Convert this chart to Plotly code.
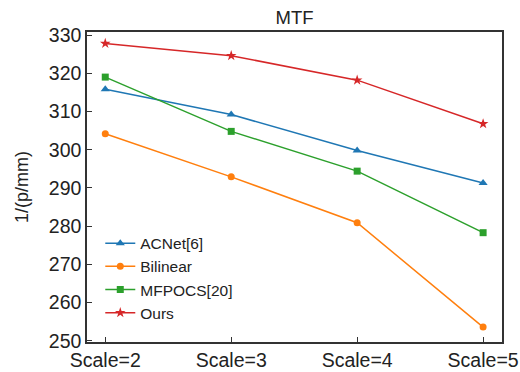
import plotly.graph_objects as go

categories = ["Scale=2", "Scale=3", "Scale=4", "Scale=5"]
acnet = [315.8, 309.2, 299.8, 291.3]
bilinear = [304.2, 292.9, 280.9, 253.6]
mfpocs = [319.0, 304.8, 294.4, 278.3]
ours = [327.8, 324.6, 318.2, 306.8]

series = [
    ("ACNet[6]", acnet, "#1f77b4", "triangle-up", 8),
    ("Bilinear", bilinear, "#ff7f0e", "circle", 7),
    ("MFPOCS[20]", mfpocs, "#2ca02c", "square", 7),
    ("Ours", ours, "#d62728", "star", 8),
]

fig = go.Figure()
for name, vals, col, sym, sz in series:
    fig.add_trace(go.Scatter(
        x=list(range(len(categories))), y=vals, name=name, mode="lines+markers",
        line=dict(color=col, width=1.5),
        marker=dict(symbol=sym, size=sz, color=col),
    ))

fig.update_layout(
    width=520, height=372,
    margin=dict(l=87, r=18, t=32, b=30),
    paper_bgcolor="white", plot_bgcolor="white",
    font=dict(family="Liberation Sans, Arial, sans-serif", color="#222", size=18),
    title=dict(text="MTF", x=0.5 * (87 + 502) / 520, xanchor="center", y=0.952, yanchor="middle",
               font=dict(size=18.5)),
    showlegend=True,
    legend=dict(x=0.032, y=0.04, xanchor="left", yanchor="bottom", bgcolor="rgba(0,0,0,0)",
                font=dict(size=15.5), tracegroupgap=0, itemwidth=30),
)
fig.update_xaxes(
    range=[-0.145, 3.15], tickmode="array", tickvals=list(range(len(categories))),
    ticktext=categories, showgrid=False, zeroline=False, automargin=False,
    showline=True, linecolor="#333", linewidth=1.5, mirror=True,
    ticks="inside", ticklen=5, tickcolor="#333", tickfont=dict(size=19.5),
)
fig.update_yaxes(
    range=[249.7, 330.8], tickvals=[250, 260, 270, 280, 290, 300, 310, 320, 330],
    showgrid=False, zeroline=False, automargin=False,
    showline=True, linecolor="#333", linewidth=1.5, mirror=True,
    ticks="inside", ticklen=5, tickcolor="#333", tickfont=dict(size=19.5),
    title=dict(text="1/(p/mm)", font=dict(size=18), standoff=16),
)

fig.write_html("out.html")
